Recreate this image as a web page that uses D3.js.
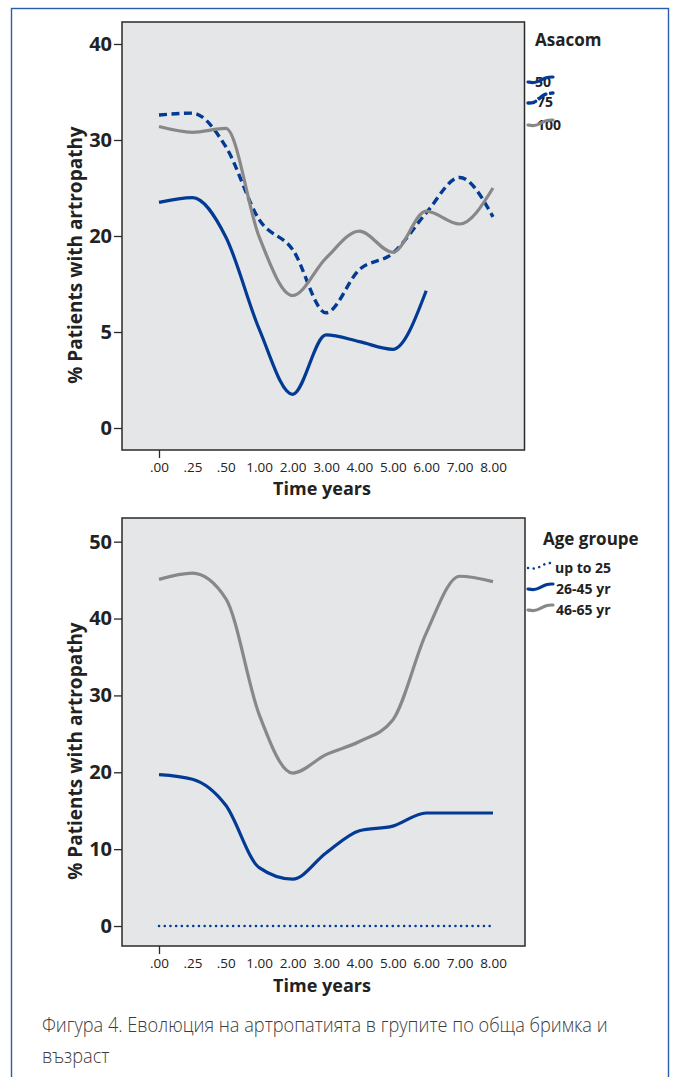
<!DOCTYPE html>
<html>
<head>
<meta charset="utf-8">
<script src="https://cdn.jsdelivr.net/npm/d3@7"></script>
<style>
  html, body { margin: 0; padding: 0; background: #fff; }
  svg { display: block; }
</style>
</head>
<body>
<script>
// Follow-up time points (x categories)
const timeLabels = [".00", ".25", ".50", "1.00", "2.00", "3.00", "4.00", "5.00", "6.00", "7.00", "8.00"];

// Panel 1: % patients with artropathy by Asacom dose
const asacomGroups = ["50", "75", "100"];
const asacom50  = [23.5, 24.0, 19.9, 10.3, 3.5, 9.7, 9.0, 8.2, 14.3, null, null];
const asacom75  = [32.6, 32.8, 29.3, 21.7, 18.6, 12.0, 16.5, 18.2, 22.4, 26.1, 22.0];
const asacom100 = [31.4, 30.8, 31.2, 19.9, 13.8, 17.7, 20.5, 18.3, 22.6, 21.25, 25.0];
const asacomTickValues = [0, 10, 20, 30, 40];
const asacomTickLabels = ["0", "5", "20", "30", "40"];

// Panel 2: % patients with artropathy by age group
const ageGroups = ["up to 25", "26-45 yr", "46-65 yr"];
const ageUpTo25 = [0, 0, 0, 0, 0, 0, 0, 0, 0, 0, 0];
const age26to45 = [19.7, 19.1, 15.7, 7.6, 6.1, 9.5, 12.4, 13.0, 14.7, 14.7, 14.7];
const age46to65 = [45.1, 45.9, 42.6, 27.5, 19.9, 22.3, 24.0, 26.8, 38.1, 45.5, 44.8];
const ageTickValues = [0, 10, 20, 30, 40, 50];
const ageTickLabels = ["0", "10", "20", "30", "40", "50"];

const BLUE = "#023a94";
const GREY = "#888888";
const SANS = "'Open Sans', 'DejaVu Sans', sans-serif";

const styles = {
  solidBlue: { stroke: BLUE, width: 3.2, dash: null, cap: "butt" },
  dashBlue:  { stroke: BLUE, width: 3.4, dash: "8,4.5", cap: "butt" },
  solidGrey: { stroke: GREY, width: 3.2, dash: null, cap: "butt" },
  dotBlue:   { stroke: BLUE, width: 2.5, dash: "0.1,5.6", cap: "round" }
};

const W = 675, H = 1077;
const svg = d3.select("body").append("svg")
  .attr("width", W).attr("height", H)
  .attr("viewBox", `0 0 ${W} ${H}`);

// outer figure frame
svg.append("rect")
  .attr("x", 11.5).attr("y", 8.5)
  .attr("width", 657).attr("height", 1090)
  .attr("fill", "none")
  .attr("stroke", "#2c5dab")
  .attr("stroke-width", 1.4);

function drawPanel(cfg) {
  const g = svg.append("g");
  const x = d3.scalePoint(timeLabels, [159, 493]);
  const y = d3.scaleLinear().domain(cfg.yDomain).range([cfg.bottom, cfg.top]);

  // plot background
  g.append("rect")
    .attr("x", cfg.left).attr("y", cfg.top)
    .attr("width", cfg.right - cfg.left).attr("height", cfg.bottom - cfg.top)
    .attr("fill", "#e5e6e8")
    .attr("stroke", "#2a2a2a")
    .attr("stroke-width", 1.5);

  // y axis
  const yAxis = d3.axisLeft(y)
    .tickValues(cfg.tickValues)
    .tickFormat((d, i) => cfg.tickLabels[i])
    .tickSize(8)
    .tickPadding(2);
  const ya = g.append("g").attr("transform", `translate(${cfg.left},0)`).call(yAxis);
  ya.select(".domain").remove();
  ya.selectAll(".tick line").attr("stroke", "#2a2a2a").attr("stroke-width", 1.3);
  ya.selectAll(".tick text")
    .attr("fill", "#222")
    .style("font-family", SANS)
    .style("font-size", "20px")
    .style("font-weight", "700");

  // x axis: labels for every time point, a tick mark at the origin only
  const xAxis = d3.axisBottom(x).tickSize(8).tickPadding(0);
  const xa = g.append("g").attr("transform", `translate(0,${cfg.bottom})`).call(xAxis);
  xa.select(".domain").remove();
  xa.selectAll(".tick line")
    .attr("stroke", "#2a2a2a").attr("stroke-width", 1.3)
    .attr("display", (d, i) => i === 0 ? null : "none");
  xa.selectAll(".tick text")
    .attr("y", cfg.xLabelOffset)
    .attr("dy", 0)
    .attr("fill", "#222")
    .style("font-family", SANS)
    .style("font-size", "13.5px");

  // axis titles
  g.append("text")
    .attr("x", 322).attr("y", cfg.xTitleY)
    .attr("text-anchor", "middle")
    .attr("fill", "#222")
    .style("font-family", SANS)
    .style("font-size", "18px")
    .style("font-weight", "700")
    .text("Time years");

  g.append("text")
    .attr("transform", `translate(82,${cfg.yTitleY}) rotate(-90)`)
    .attr("text-anchor", "middle")
    .attr("fill", "#222")
    .style("font-family", SANS)
    .style("font-size", "19px")
    .style("font-weight", "700")
    .text("% Patients with artropathy");

  // series lines
  const line = d3.line()
    .defined(d => d != null)
    .x((d, i) => x(timeLabels[i]))
    .y(d => y(d))
    .curve(d3.curveMonotoneX);

  cfg.series.forEach(s => {
    g.append("path")
      .datum(s.values)
      .attr("d", line)
      .attr("fill", "none")
      .attr("stroke", s.style.stroke)
      .attr("stroke-width", s.style.width)
      .attr("stroke-dasharray", s.style.dash)
      .attr("stroke-linecap", s.style.cap)
      .attr("stroke-linejoin", "round");
  });

  // legend
  const lg = g.append("g");
  lg.append("text")
    .attr("x", cfg.legend.titleX).attr("y", cfg.legend.titleY)
    .attr("fill", "#222")
    .style("font-family", SANS)
    .style("font-size", "17px")
    .style("font-weight", "700")
    .text(cfg.legend.title);

  const glyph = d3.line().curve(d3.curveBasis);
  cfg.series.forEach((s, i) => {
    const it = cfg.legend.items[i];
    lg.append("text")
      .attr("x", it.textX).attr("y", it.y)
      .attr("fill", "#222")
      .style("font-family", SANS)
      .style("font-size", "14px")
      .style("font-weight", "700")
      .text(s.name);
    const gx = 528, gy = it.y - 6;
    lg.append("path")
      .attr("d", glyph(it.shape.map(p => [gx + p[0], gy + p[1]])))
      .attr("fill", "none")
      .attr("stroke", s.style.stroke)
      .attr("stroke-width", s.style.width)
      .attr("stroke-dasharray", s.style.dash)
      .attr("stroke-linecap", "round");
  });
}

const waveFlat  = [[0, 1], [6, 2], [12, 0], [18, -4], [25, -4]];
const waveSteep = [[0, 2], [6, 2], [11, -2], [16, -7], [25, -8]];

drawPanel({
  top: 22, bottom: 450, left: 122, right: 524.5,
  yDomain: [-2.29, 42.29],
  tickValues: asacomTickValues,
  tickLabels: asacomTickLabels,
  xLabelOffset: 22,
  xTitleY: 495,
  yTitleY: 255,
  series: [
    { name: asacomGroups[0], values: asacom50,  style: styles.solidBlue },
    { name: asacomGroups[1], values: asacom75,  style: styles.dashBlue },
    { name: asacomGroups[2], values: asacom100, style: styles.solidGrey }
  ],
  legend: {
    title: "Asacom", titleX: 535, titleY: 46,
    items: [
      { y: 87,  textX: 535, shape: waveFlat },
      { y: 107, textX: 537, shape: waveSteep },
      { y: 130, textX: 537, shape: waveFlat }
    ]
  }
});

drawPanel({
  top: 518, bottom: 946, left: 122, right: 525,
  yDomain: [-2.6, 53.08],
  tickValues: ageTickValues,
  tickLabels: ageTickLabels,
  xLabelOffset: 22,
  xTitleY: 992,
  yTitleY: 751,
  series: [
    { name: ageGroups[0], values: ageUpTo25, style: styles.dotBlue },
    { name: ageGroups[1], values: age26to45, style: styles.solidBlue },
    { name: ageGroups[2], values: age46to65, style: styles.solidGrey }
  ],
  legend: {
    title: "Age groupe", titleX: 543, titleY: 545,
    items: [
      { y: 573, textX: 555, shape: waveFlat },
      { y: 594, textX: 556, shape: waveFlat },
      { y: 615, textX: 556, shape: waveFlat }
    ]
  }
});

// figure caption, set in a condensed cut of the text face
const captionLines = [
  "Фигура 4. Еволюция на артропатията в групите по обща бримка и",
  "възраст"
];
const captionWidth = 566;
const caption = svg.append("g");
const captionText = caption.append("text")
  .attr("fill", "#3c3c3c")
  .style("font-family", SANS)
  .style("font-weight", "300")
  .style("font-size", "21px");
captionLines.forEach((t, i) => {
  captionText.append("tspan").attr("x", 0).attr("y", 1032 + i * 31).text(t);
});
const firstLine = captionText.select("tspan").node().getComputedTextLength();
const squeeze = firstLine > 0 ? captionWidth / firstLine : 1;
caption.attr("transform", `translate(42,0) scale(${squeeze},1)`);
</script>
</body>
</html>
